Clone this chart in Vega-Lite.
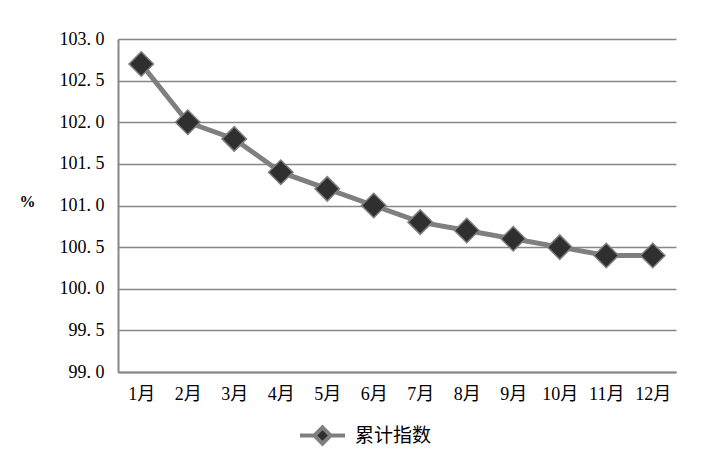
{
  "$schema": "https://vega.github.io/schema/vega-lite/v6.json",
  "width": 558,
  "height": 333,
  "autosize": {"type": "none"},
  "padding": {"left": 118, "top": 39, "right": 36, "bottom": 102},
  "background": "white",
  "config": {
    "view": {"stroke": null},
    "font": "Liberation Serif, Noto Sans CJK SC"
  },
  "data": {
    "values": [
      {"month": "1月", "value": 102.7, "series": "累计指数"},
      {"month": "2月", "value": 102.0, "series": "累计指数"},
      {"month": "3月", "value": 101.8, "series": "累计指数"},
      {"month": "4月", "value": 101.4, "series": "累计指数"},
      {"month": "5月", "value": 101.2, "series": "累计指数"},
      {"month": "6月", "value": 101.0, "series": "累计指数"},
      {"month": "7月", "value": 100.8, "series": "累计指数"},
      {"month": "8月", "value": 100.7, "series": "累计指数"},
      {"month": "9月", "value": 100.6, "series": "累计指数"},
      {"month": "10月", "value": 100.5, "series": "累计指数"},
      {"month": "11月", "value": 100.4, "series": "累计指数"},
      {"month": "12月", "value": 100.4, "series": "累计指数"}
    ]
  },
  "encoding": {
    "x": {
      "field": "month",
      "type": "ordinal",
      "sort": null,
      "scale": {"type": "point", "padding": 0.5},
      "axis": {
        "title": null,
        "labelAngle": 0,
        "labelFont": "Liberation Serif, Noto Sans CJK SC",
        "labelFontSize": 18,
        "labelColor": "#000",
        "labelPadding": 13,
        "ticks": false,
        "domainColor": "#868686",
        "domainWidth": 2,
        "grid": false
      }
    },
    "y": {
      "field": "value",
      "type": "quantitative",
      "scale": {"domain": [99, 103], "nice": false, "zero": false},
      "axis": {
        "values": [99, 99.5, 100, 100.5, 101, 101.5, 102, 102.5, 103],
        "labelExpr": "replace(format(datum.value, '.1f'), '.', '. ')",
        "labelFont": "Liberation Serif, Noto Sans CJK SC",
        "labelFontSize": 18,
        "labelColor": "#000",
        "labelPadding": 14,
        "ticks": false,
        "domainColor": "#868686",
        "domainWidth": 2,
        "gridColor": "#868686",
        "gridWidth": 1.5,
        "title": "%",
        "titleAngle": 0,
        "titleFont": "Liberation Serif",
        "titleFontSize": 16,
        "titleFontWeight": "bold",
        "titleColor": "#000",
        "titleX": -91,
        "titleY": 162,
        "titleAlign": "center",
        "titleBaseline": "middle"
      }
    }
  },
  "layer": [
    {
      "mark": {"type": "line", "strokeWidth": 5},
      "encoding": {
        "stroke": {
          "field": "series",
          "type": "nominal",
          "scale": {"range": ["#7f7f7f"]},
          "legend": {
            "title": null,
            "orient": "none",
            "legendX": 180,
            "legendY": 372,
            "symbolType": "M-1,0H-0.36M0.36,0H1M0,-0.36L0.36,0L0,0.36L-0.36,0Z",
            "symbolSize": 2025,
            "symbolStrokeWidth": 4,
            "labelFont": "Noto Sans CJK SC",
            "labelFontSize": 19,
            "labelColor": "#000",
            "labelOffset": 8,
            "encode": {
              "symbols": {
                "update": {
                  "fill": {"value": "#2f2f2f"},
                  "stroke": {"value": "#7f7f7f"},
                  "strokeWidth": {"value": 4}
                }
              }
            }
          }
        }
      }
    },
    {
      "mark": {
        "type": "point",
        "shape": "diamond",
        "size": 600,
        "filled": true,
        "fill": "#2f2f2f",
        "stroke": "#7f7f7f",
        "strokeWidth": 1.5,
        "opacity": 1
      }
    }
  ]
}
